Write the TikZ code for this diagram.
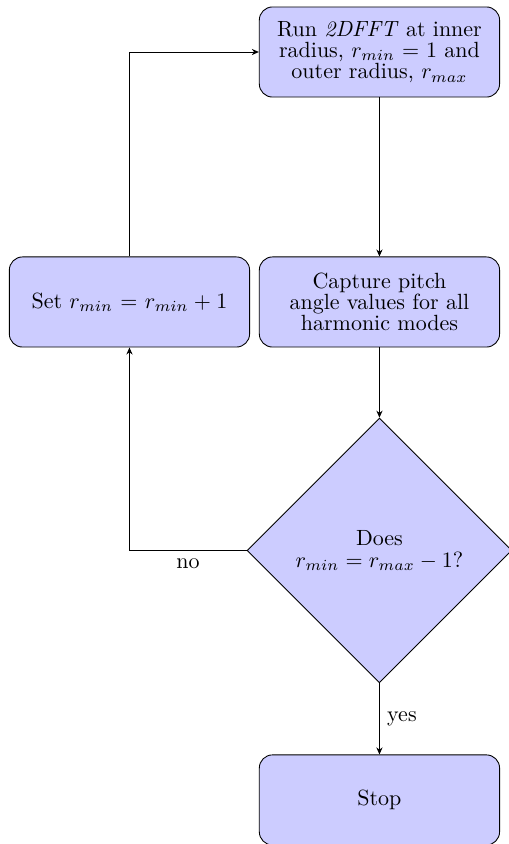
\documentclass[tikz,border=0pt]{standalone}
\usepackage{amsmath,amssymb}
\usepackage{xcolor}
\usepackage{tikz}
\usetikzlibrary{shapes.geometric,arrows.meta}
\definecolor{boxfill}{RGB}{204,204,255}
\definecolor{edge}{HTML}{000000}
\tikzset{
  block/.style={rectangle, draw=edge, fill=boxfill, rounded corners=6pt, text width=3.4cm, align=center, minimum width=3.84cm, minimum height=1.44cm, inner sep=2pt, font=\fontsize{10}{9.7}\selectfont},
  decision/.style={diamond, draw=edge, fill=boxfill, aspect=1, minimum width=4.23cm, minimum height=4.23cm, inner sep=0pt, align=center, font=\fontsize{10}{9.7}\selectfont},
  line/.style={draw=edge, line width=0.4pt, -{Stealth[length=3.2pt,width=2.8pt]}},
  lab/.style={font=\normalsize},
}
\begin{document}
\begin{tikzpicture}
  \useasboundingbox (0,0) rectangle (8.134,-13.488);
  \node[block] (run) at (6.064,-0.831) {Run \textit{2DFFT} at inner\\radius, $r_{min}=1$ and\\outer radius, $r_{max}$};
  \node[block] (capture) at (6.064,-4.826) {Capture pitch\\angle values for all\\harmonic modes};
  \node[block] (setmin) at (2.069,-4.826) {Set $r_{min}=r_{min}+1$};
  \node[decision] (check) at (6.064,-8.797) {Does\\$r_{min}=r_{max}-1$?};
  \node[block] (stop) at (6.064,-12.784) {Stop};
  % main path
  \draw[line] (run) -- (capture);
  \draw[line] (capture) -- (check);
  \draw[line] (check) -- node[lab, right] {yes} (stop);
  % loop back
  \draw[line] (check.west) -| node[lab, below, pos=0.25] {no} (setmin.south);
  \draw[line] (setmin.north) |- (run.west);
\end{tikzpicture}
\end{document}
